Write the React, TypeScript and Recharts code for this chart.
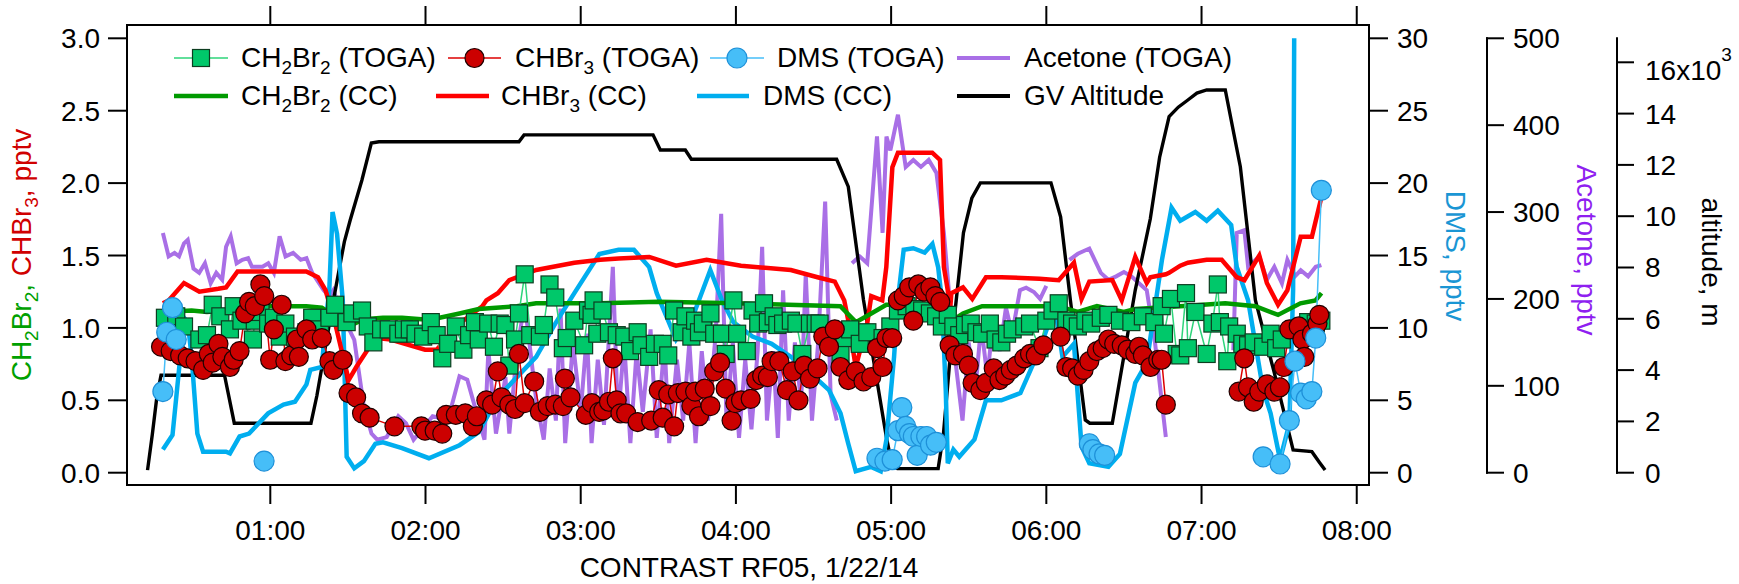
import React from 'react';
import { ComposedChart, Line, XAxis, YAxis } from 'recharts';

const W = 1739;
const H = 584;
const FONT = '"Liberation Sans", Arial, Helvetica, sans-serif';
const FS = 28;

// ---------- axes ----------
const timeTicks = [1, 2, 3, 4, 5, 6, 7, 8]; // hours UTC
const leftTicks = [0, 0.5, 1, 1.5, 2, 2.5, 3];
const dmsTicks = [0, 5, 10, 15, 20, 25, 30];
const acetoneTicks = [0, 100, 200, 300, 400, 500];
const altitudeTicks = [0, 2000, 4000, 6000, 8000, 10000, 12000, 14000, 16000];
const X_DOMAIN: [number, number] = [0.0767, 8.079];
const LEFT_DOMAIN: [number, number] = [-0.0849, 3.0919];
const DMS_DOMAIN: [number, number] = [-0.849, 30.919];
const ACE_DOMAIN: [number, number] = [-14.16, 515.3];
const ALT_DOMAIN: [number, number] = [-479.5, 17454];
const ALT_AXIS_END = 16936;

// ---------- GV altitude (m) ----------
const altTime = [0.209,0.240,0.270,0.296,0.705,0.768,1.262,1.300,1.332,1.406,
1.477,1.515,1.590,1.651,1.700,2.602,2.635,3.466,3.513,3.674,
3.713,4.649,4.724,4.822,4.969,5.008,5.040,5.303,5.337,5.380,
5.427,5.466,5.520,5.575,6.030,6.092,6.155,6.251,6.280,6.425,
6.499,6.573,6.670,6.730,6.791,6.850,6.912,6.970,7.033,7.153,
7.250,7.347,7.469,7.590,7.711,7.760,7.796];
const altMeters = [100,1500,3000,3800,3800,1930,1930,3000,4100,6700,
9000,9850,11400,12850,12900,12900,13170,13170,12580,12580,
12220,12220,11150,6730,1400,230,160,160,1500,4500,
7150,9350,10700,11300,11300,9980,6730,2055,1930,1930,
4520,7120,9900,12300,13880,14250,14530,14800,14920,14920,
11930,6730,3890,885,820,400,105];

// ---------- CH2Br2 (CC) ----------
const ch2br2CcTime = [0.307,0.493,0.592,0.715,0.764,0.987,1.232,1.332,1.406,1.479,
1.504,1.603,1.726,1.849,1.973,2.046,2.219,2.343,2.589,2.713,
3.126,3.500,4.000,4.673,4.773,4.872,4.969,5.100,5.250,5.340,
5.377,5.463,5.586,6.077,6.203,6.326,6.499,6.573,6.863,7.153,
7.347,7.493,7.637,7.734,7.773];
const ch2br2CcPptv = [1.11,1.12,1.11,1.12,1.15,1.15,1.15,1.14,1.09,1.03,
1.01,1.06,1.07,1.07,1.06,1.06,1.10,1.13,1.15,1.17,
1.17,1.18,1.17,1.15,1.04,1.10,1.16,1.16,1.15,1.11,
1.04,1.10,1.15,1.15,1.11,1.15,1.11,1.13,1.15,1.17,
1.15,1.09,1.17,1.19,1.24];

// ---------- CHBr3 (CC) ----------
const chbr3CcTime = [0.308,0.345,0.444,0.543,0.665,0.715,0.789,0.987,1.232,1.307,
1.356,1.418,1.505,1.554,1.652,1.689,1.775,1.997,2.072,2.219,
2.366,2.392,2.466,2.540,2.713,2.959,3.126,3.244,3.442,3.614,
3.811,4.033,4.354,4.526,4.637,4.698,4.724,4.772,4.846,4.872,
4.943,4.969,5.008,5.044,5.265,5.315,5.340,5.365,5.377,5.388,
5.463,5.523,5.611,5.710,5.956,6.080,6.178,6.227,6.277,6.425,
6.486,6.573,6.647,6.670,6.770,6.791,6.863,6.912,7.033,7.130,
7.227,7.276,7.372,7.421,7.493,7.553,7.590,7.639,7.711,7.772];
const chbr3CcPptv = [1.17,1.19,1.31,1.25,1.27,1.28,1.39,1.39,1.39,1.35,
1.26,1.03,0.64,0.73,0.89,0.93,0.92,0.85,0.85,1.03,
1.15,1.19,1.24,1.33,1.40,1.45,1.47,1.48,1.49,1.43,
1.47,1.43,1.40,1.35,1.32,1.19,1.05,0.73,1.03,1.22,
1.19,1.42,2.11,2.21,2.21,2.16,1.42,1.26,1.08,1.24,
1.28,1.20,1.35,1.35,1.34,1.33,1.45,1.20,1.32,1.33,
1.19,1.49,1.31,1.35,1.37,1.38,1.43,1.45,1.47,1.47,
1.35,1.33,1.50,1.31,1.16,1.26,1.42,1.63,1.63,1.90];

// ---------- DMS (CC) ----------
const dmsCcTime = [0.308,0.370,0.420,0.444,0.468,0.493,0.530,0.567,0.715,0.740,
0.802,0.863,0.986,1.085,1.159,1.233,1.258,1.332,1.356,1.380,
1.401,1.430,1.467,1.492,1.541,1.603,1.677,1.726,1.849,2.022,
2.219,2.343,2.466,2.589,2.713,2.836,2.959,3.120,3.244,3.343,
3.441,3.490,3.614,3.737,3.835,3.910,3.983,4.107,4.230,4.354,
4.477,4.600,4.674,4.724,4.772,4.871,4.933,4.970,5.019,5.044,
5.081,5.143,5.216,5.266,5.303,5.327,5.352,5.365,5.401,5.439,
5.537,5.611,5.710,5.833,5.956,6.055,6.104,6.178,6.227,6.277,
6.400,6.474,6.573,6.647,6.745,6.807,6.863,6.960,7.033,7.105,
7.191,7.227,7.300,7.397,7.445,7.506,7.566,7.590,7.597];
const dmsCcPptv = [1.6,2.6,8.0,10.7,10.4,8.0,2.7,1.45,1.45,1.34,
2.5,2.7,4.1,4.7,4.9,6.1,7.1,7.3,10.3,12.6,
18.0,16.5,11.9,1.1,0.3,0.8,2.0,2.1,1.7,1.0,
1.9,2.8,5.2,6.6,8.0,10.3,12.4,15.1,15.4,15.4,
14.2,12.4,9.2,11.2,14.0,11.9,10.4,9.4,8.9,8.0,
6.9,5.7,4.1,2.0,0.1,0.4,0.1,2.3,8.0,12.0,
15.4,15.5,15.2,15.8,14.2,11.9,5.7,0.65,1.6,1.1,
2.3,5.0,5.0,5.5,8.5,11.5,8.0,8.9,1.8,0.65,
0.4,1.3,6.2,7.6,14.7,18.3,17.4,18.0,17.4,18.1,
17.1,14.2,11.9,5.7,4.1,0.9,3.4,12.6,30.0];

// ---------- Acetone (TOGA) ----------
const acetoneTime = [0.308,0.345,0.383,0.412,0.444,0.468,0.505,0.542,0.579,0.616,
0.652,0.690,0.715,0.745,0.783,0.820,0.857,0.882,0.950,0.987,
1.023,1.060,1.098,1.147,1.196,1.233,1.270,1.344,1.381,1.406,
1.467,1.541,1.603,1.652,1.689,1.750,1.825,1.874,1.923,1.973,
2.046,2.145,2.219,2.269,2.318,2.380,2.405,2.454,2.515,2.540,
2.589,2.639,2.713,2.762,2.800,2.840,2.870,2.900,2.950,3.000,
3.040,3.070,3.110,3.150,3.207,3.240,3.280,3.320,3.360,3.400,
3.450,3.490,3.540,3.570,3.620,3.660,3.700,3.740,3.780,3.820,
3.870,3.905,3.940,3.980,4.020,4.060,4.100,4.140,4.169,4.200,
4.240,4.270,4.304,4.340,4.380,4.420,4.450,4.490,4.530,4.575,
4.610,4.650,4.700,4.748,4.797,4.846,4.909,4.945,4.970,4.995,
5.044,5.094,5.143,5.192,5.242,5.292,5.340,5.377,5.420,5.460,
5.500,5.540,5.580,5.620,5.660,5.700,5.740,5.780,5.830,5.870,
5.920,5.960,6.000,6.060,6.149,6.203,6.277,6.351,6.400,6.450,
6.500,6.548,6.597,6.647,6.700,6.770,6.950,7.205,7.227,7.276,
7.300,7.372,7.421,7.469,7.518,7.553,7.602,7.639,7.687,7.736,
7.772];
const acetonePptv = [276,249,253,249,264,268,235,230,241,218,
230,222,260,272,241,245,247,237,237,241,
230,272,249,253,245,247,230,210,203,210,
180,153,76,45,38,41,65,57,38,49,
65,61,111,107,76,38,141,45,110,45,
141,195,84,38,120,60,189,34,150,70,
160,34,130,55,237,60,150,34,140,70,
165,40,150,34,130,60,150,34,140,60,
160,298,55,150,40,130,50,140,260,60,
140,40,210,60,150,80,229,60,150,312,
90,60,null,241,249,241,387,276,387,371,
412,352,360,352,360,345,276,199,120,60,
150,90,170,110,180,140,190,160,210,213,
208,200,215,null,245,252,258,230,222,226,
231,226,218,210,150,41,null,141,276,279,
237,249,222,237,218,245,226,233,226,237,
239];

// ---------- DMS (TOGA) ----------
const dmsTogaTime = [0.308,0.333,0.370,0.394,0.600,0.960,1.500,4.909,4.960,5.007,
5.044,5.069,5.094,5.118,5.143,5.168,5.192,5.229,5.254,5.291,
5.800,6.277,6.300,6.340,6.376,7.000,7.397,7.506,7.566,7.602,
7.639,7.675,7.711,7.736,7.772];
const dmsTogaPptv = [5.6,9.7,11.4,9.2,null,0.8,null,1.0,0.8,0.9,
2.9,4.5,3.2,2.7,2.5,1.2,2.5,2.5,1.9,2.1,
null,2.0,1.6,1.3,1.2,null,1.1,0.6,3.6,7.7,
5.5,5.1,5.6,9.3,19.5];

// ---------- CHBr3 (TOGA) ----------
const chbr3TogaTime = [0.296,0.358,0.419,0.468,0.518,0.567,0.604,0.629,0.666,0.691,
0.740,0.764,0.802,0.838,0.863,0.900,0.936,0.961,0.999,1.023,
1.073,1.097,1.135,1.171,1.184,1.233,1.270,1.332,1.381,1.406,
1.467,1.504,1.553,1.591,1.640,1.800,1.973,1.997,2.059,2.108,
2.133,2.195,2.256,2.305,2.331,2.392,2.429,2.466,2.490,2.540,
2.577,2.602,2.639,2.700,2.737,2.787,2.836,2.885,2.898,2.934,
3.033,3.072,3.119,3.146,3.182,3.207,3.232,3.256,3.293,3.367,
3.454,3.503,3.528,3.564,3.602,3.626,3.675,3.713,3.737,3.762,
3.799,3.836,3.860,3.898,3.934,3.972,3.996,4.033,4.095,4.131,
4.169,4.206,4.230,4.280,4.329,4.366,4.403,4.440,4.477,4.526,
4.563,4.600,4.637,4.674,4.724,4.773,4.822,4.872,4.909,4.945,
4.970,5.007,5.044,5.081,5.117,5.143,5.175,5.214,5.253,5.285,
5.317,5.377,5.414,5.463,5.500,5.525,5.575,5.611,5.661,5.698,
5.735,5.771,5.809,5.858,5.895,5.932,5.981,6.092,6.129,6.166,
6.203,6.240,6.277,6.326,6.363,6.400,6.437,6.486,6.524,6.573,
6.597,6.622,6.671,6.721,6.743,6.770,7.000,7.239,7.275,7.300,
7.336,7.372,7.421,7.469,7.505,7.530,7.566,7.626,7.650,7.662,
7.711,7.747,7.759];
const chbr3TogaPptv = [0.87,0.84,0.81,0.79,0.77,0.71,0.82,0.76,0.89,0.80,
0.73,0.78,0.84,1.10,1.18,1.15,1.30,1.22,0.78,0.99,
1.16,0.77,0.81,0.92,0.80,0.99,0.92,0.93,0.77,0.71,
0.78,0.55,0.52,0.41,0.38,0.32,0.32,0.29,0.29,0.27,
0.40,0.40,0.41,0.32,0.39,0.50,0.47,0.70,0.52,0.47,
0.44,0.82,0.48,0.63,0.42,0.46,0.47,0.46,0.65,0.52,
0.40,0.48,0.42,0.43,0.49,0.79,0.50,0.41,0.41,0.35,
0.36,0.57,0.38,0.54,0.32,0.55,0.56,0.46,0.56,0.39,
0.58,0.46,0.70,0.76,0.58,0.36,0.48,0.50,0.51,0.64,
0.67,0.66,0.77,0.77,0.57,0.70,0.50,0.74,0.65,0.72,
0.94,0.87,0.99,0.73,0.64,0.70,0.63,0.66,0.86,0.73,
0.93,0.93,1.19,1.22,1.28,1.05,1.30,1.25,1.28,1.22,
1.18,0.88,0.81,0.82,0.74,0.62,0.57,0.62,0.72,0.64,
0.67,0.71,0.74,0.79,0.82,0.81,0.88,0.94,0.73,0.72,
0.67,0.71,0.77,0.84,0.86,0.92,0.89,0.88,0.85,0.82,
0.87,0.81,0.73,0.78,0.78,0.47,null,0.56,0.79,0.59,
0.49,0.56,0.61,0.56,0.59,0.73,0.99,1.01,0.92,0.80,
0.96,1.03,1.09];

// ---------- CH2Br2 (TOGA) ----------
const ch2br2TogaTime = [0.321,0.394,0.444,0.543,0.592,0.629,0.678,0.740,0.764,0.814,
0.888,0.900,0.937,0.986,1.023,1.061,1.097,1.159,1.233,1.270,
1.320,1.381,1.418,1.492,1.529,1.591,1.628,1.664,1.714,1.763,
1.825,1.861,1.899,1.936,1.985,2.034,2.072,2.108,2.146,2.195,
2.244,2.281,2.318,2.343,2.404,2.441,2.478,2.515,2.540,2.577,
2.602,2.639,2.675,2.737,2.762,2.799,2.836,2.885,2.910,2.959,
3.022,3.047,3.070,3.083,3.107,3.140,3.182,3.232,3.281,3.318,
3.367,3.392,3.441,3.478,3.528,3.564,3.602,3.651,3.675,3.713,
3.737,3.762,3.787,3.836,3.860,3.910,3.934,3.984,4.008,4.070,
4.107,4.144,4.181,4.206,4.243,4.267,4.304,4.354,4.390,4.428,
4.477,4.514,4.539,4.600,4.637,4.674,4.699,4.736,4.798,4.847,
4.945,4.995,5.044,5.100,5.150,5.200,5.250,5.290,5.327,5.365,
5.401,5.439,5.476,5.513,5.550,5.586,5.636,5.673,5.710,5.747,
5.783,5.858,5.895,5.956,6.000,6.040,6.080,6.129,6.166,6.203,
6.252,6.289,6.351,6.400,6.474,6.548,6.622,6.696,6.743,6.758,
6.803,6.840,6.863,6.900,6.912,6.961,7.033,7.070,7.105,7.118,
7.166,7.178,7.227,7.263,7.300,7.336,7.397,7.445,7.481,7.517,
7.602,7.687,7.736,7.772];
const ch2br2TogaPptv = [1.07,1.08,1.01,0.92,0.95,1.16,1.08,0.99,1.15,1.05,
0.92,1.05,1.11,1.03,1.07,0.94,1.03,0.94,0.97,1.07,
0.99,1.07,1.16,1.04,1.10,1.12,1.01,0.90,0.99,0.99,
0.96,0.99,0.99,0.96,0.94,1.04,0.95,0.79,0.89,1.01,
0.85,0.95,1.04,0.92,1.03,0.87,1.03,1.02,0.74,0.92,
1.10,1.37,0.95,0.94,1.02,1.30,1.21,0.86,0.93,1.05,
0.88,1.12,1.09,1.19,0.96,1.12,0.97,0.95,0.94,0.84,
0.97,0.88,0.80,0.89,0.89,0.81,1.12,0.97,1.08,0.94,
1.05,0.97,1.03,1.10,0.96,0.96,0.82,1.19,0.96,0.84,
1.12,1.03,1.17,1.04,1.08,1.02,1.03,1.05,1.03,0.82,
1.03,1.03,1.03,0.93,0.89,0.82,0.93,0.99,0.89,0.97,
0.93,1.01,1.12,1.15,1.13,1.12,1.10,1.08,1.01,1.09,
1.01,0.95,1.02,1.03,0.97,0.96,1.03,0.92,0.90,0.96,
0.99,1.01,1.03,0.86,1.05,1.12,1.17,1.05,1.03,1.01,
1.05,1.03,1.07,1.09,1.05,1.04,1.08,1.04,1.15,0.96,
1.20,0.82,0.81,1.24,0.86,1.11,0.82,1.03,1.30,1.04,
0.77,1.01,0.96,0.89,0.88,0.90,0.87,0.96,0.86,0.92,
0.99,1.04,1.03,1.05];

const rows = (t: number[], v: (number | null)[]) => t.map((h, i) => ({ h, v: v[i] ?? null }));

const C = {
  ch2br2Cc: '#009a00',
  chbr3Cc: '#ff0000',
  dmsCc: '#00aeef',
  acetone: '#a96fe6',
  alt: '#000000',
  sqFill: '#00c86a',
  sqStroke: '#0d3d20',
  sqLine: '#2ed47a',
  ciFill: '#cc0000',
  ciStroke: '#200000',
  ciLine: '#dd0000',
  dmFill: '#46bef8',
  dmStroke: '#1e90d8',
  dmLine: '#46bef8',
  leftGreen: '#00a000',
  leftRed: '#d00000',
  dmsLabel: '#1a96d4',
  aceLabel: '#8f1ff0',
};

const PLOT_H = 460;
const axisStroke = { stroke: '#000', strokeWidth: 2, strokeLinecap: 'square' as const };

const txt = { fontFamily: FONT, fontSize: FS, fill: '#000' };

const XTick = (p: any) => (
  <text x={p.x} y={p.y} dy={37} textAnchor="middle" {...txt}>
    {`${String(p.payload.value).padStart(2, '0')}:00`}
  </text>
);
const NoTick = () => <g />;
const LeftTick = (p: any) => (
  <text x={p.x} y={p.y} dy={10} textAnchor="end" {...txt}>{Number(p.payload.value).toFixed(1)}</text>
);
const DmsTick = (p: any) => (
  <text x={p.x} y={p.y} dy={10} textAnchor="start" {...txt}>{p.payload.value}</text>
);
const AceTick = (p: any) => {
  const v = p.payload.value;
  const axisX = p.x - 16 - 10;
  const step = (100 * PLOT_H) / (ACE_DOMAIN[1] - ACE_DOMAIN[0]);
  return (
    <g>
      {v > 0 && <line x1={axisX} x2={axisX} y1={p.y} y2={p.y + step} {...axisStroke} />}
      <text x={p.x} y={p.y} dy={10} textAnchor="start" {...txt}>{v}</text>
    </g>
  );
};
const AltTick = (p: any) => {
  const v = p.payload.value;
  const axisX = p.x - 16 - 12;
  const k = PLOT_H / (ALT_DOMAIN[1] - ALT_DOMAIN[0]);
  const last = v === altitudeTicks[altitudeTicks.length - 1];
  return (
    <g>
      {v > 0 && <line x1={axisX} x2={axisX} y1={p.y} y2={p.y + 2000 * k} {...axisStroke} />}
      {last && <line x1={axisX} x2={axisX} y1={p.y} y2={p.y - (ALT_AXIS_END - v) * k} {...axisStroke} />}
      {last ? (
        <text x={p.x} y={p.y} dy={18} textAnchor="start" {...txt}>
          <tspan>{`${v / 1000}x10`}</tspan>
          <tspan dy={-19} fontSize={19}>3</tspan>
        </text>
      ) : (
        <text x={p.x} y={p.y} dy={10} textAnchor="start" {...txt}>{v / 1000}</text>
      )}
    </g>
  );
};

const SquareDot = (p: any) => {
  if (p.cy == null || p.value == null) return <g key={`s${p.index}`} />;
  return <rect key={`s${p.index}`} x={p.cx - 8.5} y={p.cy - 8.5} width={17} height={17} fill={C.sqFill} stroke={C.sqStroke} strokeWidth={1.2} />;
};
const RedDot = (p: any) => {
  if (p.cy == null || p.value == null) return <g key={`r${p.index}`} />;
  return <circle key={`r${p.index}`} cx={p.cx} cy={p.cy} r={9.5} fill={C.ciFill} stroke={C.ciStroke} strokeWidth={1.2} />;
};
const BlueDot = (p: any) => {
  if (p.cy == null || p.value == null) return <g key={`b${p.index}`} />;
  return <circle key={`b${p.index}`} cx={p.cx} cy={p.cy} r={10} fill={C.dmFill} stroke={C.dmStroke} strokeWidth={1.2} />;
};

function chem(str: string, key: string, fill?: string) {
  const parts = str.split(/\{(\d+)\}/);
  return parts.map((p, i) => {
    if (i % 2 === 1)
      return <tspan key={`${key}${i}`} dy={7} fontSize={19} fill={fill}>{p}</tspan>;
    if (i === 0) return <tspan key={`${key}${i}`} fill={fill}>{p}</tspan>;
    return <tspan key={`${key}${i}`} dy={-7} fill={fill}>{p}</tspan>;
  });
}

type LegendItem = { label: string; kind: 'sq' | 'ci' | 'dm' | 'line'; color: string; width: number; x1: number; x2: number; tx: number; row: number };
const legendItems: LegendItem[] = [
  { label: 'CH{2}Br{2} (TOGA)', kind: 'sq', color: C.sqLine, width: 1.5, x1: 174, x2: 228, tx: 241, row: 0 },
  { label: 'CHBr{3} (TOGA)', kind: 'ci', color: C.ciLine, width: 1.5, x1: 448, x2: 501, tx: 515, row: 0 },
  { label: 'DMS (TOGA)', kind: 'dm', color: C.dmLine, width: 1.5, x1: 710, x2: 764, tx: 777, row: 0 },
  { label: 'Acetone (TOGA)', kind: 'line', color: C.acetone, width: 4, x1: 957, x2: 1010, tx: 1024, row: 0 },
  { label: 'CH{2}Br{2} (CC)', kind: 'line', color: C.ch2br2Cc, width: 4.5, x1: 174, x2: 228, tx: 241, row: 1 },
  { label: 'CHBr{3} (CC)', kind: 'line', color: C.chbr3Cc, width: 4.5, x1: 436, x2: 489, tx: 501, row: 1 },
  { label: 'DMS (CC)', kind: 'line', color: C.dmsCc, width: 4.5, x1: 697, x2: 749, tx: 763, row: 1 },
  { label: 'GV Altitude', kind: 'line', color: C.alt, width: 4, x1: 957, x2: 1010, tx: 1024, row: 1 },
];
const ROW_Y = [58, 96];

export default function App() {
  return (
    <div style={{ position: 'absolute', left: 0, top: 0, width: W, height: H, background: '#fff' }}>
      <ComposedChart width={W} height={H} margin={{ top: 0, right: 0, bottom: 0, left: 0 }}>
        <XAxis xAxisId="b" dataKey="h" type="number" orientation="bottom" domain={X_DOMAIN} allowDataOverflow
          ticks={timeTicks} interval={0} height={99} tickSize={18} tickMargin={0} tick={XTick}
          tickLine={axisStroke} axisLine={axisStroke} />
        <XAxis xAxisId="t" dataKey="h" type="number" orientation="top" domain={X_DOMAIN} allowDataOverflow
          ticks={timeTicks} interval={0} height={25} tickSize={18} tickMargin={0} tick={NoTick}
          tickLine={axisStroke} axisLine={axisStroke} />
        <YAxis yAxisId="a0left" orientation="left" type="number" width={127} domain={LEFT_DOMAIN} allowDataOverflow
          ticks={leftTicks} interval={0} tickSize={18} tickMargin={9} tick={LeftTick}
          tickLine={axisStroke} axisLine={axisStroke} />
        <YAxis yAxisId="r1dms" orientation="right" type="number" width={118} domain={DMS_DOMAIN} allowDataOverflow
          ticks={dmsTicks} interval={0} tickSize={18} tickMargin={10} tick={DmsTick}
          tickLine={axisStroke} axisLine={axisStroke} />
        <YAxis yAxisId="r2ace" orientation="right" type="number" width={130} domain={ACE_DOMAIN} allowDataOverflow
          ticks={acetoneTicks} interval={0} tickSize={16} tickMargin={10} tick={AceTick}
          tickLine={axisStroke} axisLine={false} />
        <YAxis yAxisId="r3alt" orientation="right" type="number" width={122} domain={ALT_DOMAIN} allowDataOverflow
          ticks={altitudeTicks} interval={0} tickSize={16} tickMargin={12} tick={AltTick}
          tickLine={axisStroke} axisLine={false} />

        <Line data={rows(acetoneTime, acetonePptv)} dataKey="v" xAxisId="b" yAxisId="r2ace" type="linear"
          stroke={C.acetone} strokeWidth={4} dot={false} activeDot={false} connectNulls={false} isAnimationActive={false} />
        <Line data={rows(altTime, altMeters)} dataKey="v" xAxisId="b" yAxisId="r3alt" type="linear"
          stroke={C.alt} strokeWidth={3.4} dot={false} activeDot={false} isAnimationActive={false} />
        <Line data={rows(dmsCcTime, dmsCcPptv)} dataKey="v" xAxisId="b" yAxisId="r1dms" type="linear"
          stroke={C.dmsCc} strokeWidth={4.5} dot={false} activeDot={false} isAnimationActive={false} />
        <Line data={rows(chbr3CcTime, chbr3CcPptv)} dataKey="v" xAxisId="b" yAxisId="a0left" type="linear"
          stroke={C.chbr3Cc} strokeWidth={4.5} dot={false} activeDot={false} isAnimationActive={false} />
        <Line data={rows(ch2br2CcTime, ch2br2CcPptv)} dataKey="v" xAxisId="b" yAxisId="a0left" type="linear"
          stroke={C.ch2br2Cc} strokeWidth={4.5} dot={false} activeDot={false} isAnimationActive={false} />
        <Line data={rows(ch2br2TogaTime, ch2br2TogaPptv)} dataKey="v" xAxisId="b" yAxisId="a0left" type="linear"
          stroke={C.sqLine} strokeWidth={1.5} dot={SquareDot} activeDot={false} connectNulls={false} isAnimationActive={false} />
        <Line data={rows(chbr3TogaTime, chbr3TogaPptv)} dataKey="v" xAxisId="b" yAxisId="a0left" type="linear"
          stroke={C.ciLine} strokeWidth={1.5} dot={RedDot} activeDot={false} connectNulls={false} isAnimationActive={false} />
        <Line data={rows(dmsTogaTime, dmsTogaPptv)} dataKey="v" xAxisId="b" yAxisId="r1dms" type="linear"
          stroke={C.dmLine} strokeWidth={1.5} dot={BlueDot} activeDot={false} connectNulls={false} isAnimationActive={false} />
      </ComposedChart>

      <svg width={W} height={H} style={{ position: 'absolute', left: 0, top: 0, pointerEvents: 'none' }}>
        {legendItems.map((it, i) => {
          const y = ROW_Y[it.row];
          const mid = (it.x1 + it.x2) / 2;
          return (
            <g key={`lg${i}`}>
              <line x1={it.x1} x2={it.x2} y1={y} y2={y} stroke={it.color} strokeWidth={it.width} />
              {it.kind === 'sq' && <rect x={mid - 8.5} y={y - 8.5} width={17} height={17} fill={C.sqFill} stroke={C.sqStroke} strokeWidth={1.2} />}
              {it.kind === 'ci' && <circle cx={mid} cy={y} r={9.5} fill={C.ciFill} stroke={C.ciStroke} strokeWidth={1.2} />}
              {it.kind === 'dm' && <circle cx={mid} cy={y} r={10} fill={C.dmFill} stroke={C.dmStroke} strokeWidth={1.2} />}
              <text x={it.tx} y={y + 9} {...txt} style={{ whiteSpace: 'pre' }}>{chem(it.label, `l${i}`)}</text>
            </g>
          );
        })}

        <text transform="translate(31,255) rotate(-90)" textAnchor="middle" {...txt} style={{ whiteSpace: 'pre' }}>
          {chem('CH{2}Br{2}, ', 'g', C.leftGreen)}
          {chem('CHBr{3}, pptv', 'r', C.leftRed)}
        </text>
        <text transform="translate(1446,256) rotate(90)" textAnchor="middle" {...txt} fill={C.dmsLabel}>DMS, pptv</text>
        <text transform="translate(1577,250) rotate(90)" textAnchor="middle" {...txt} fill={C.aceLabel}>Acetone, pptv</text>
        <text transform="translate(1702,262) rotate(90)" textAnchor="middle" {...txt}>altitude, m</text>
        <text x={749} y={577} textAnchor="middle" {...txt}>CONTRAST RF05, 1/22/14</text>
      </svg>
    </div>
  );
}
